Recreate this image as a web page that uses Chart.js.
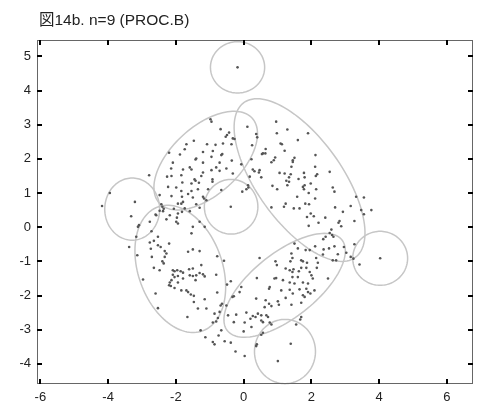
<!DOCTYPE html>
<html>
<head>
<meta charset="utf-8">
<script src="https://cdn.jsdelivr.net/npm/chart.js@4.4.1/dist/chart.umd.min.js"></script>
<style>
  html, body { margin: 0; padding: 0; background: #fff; }
  #wrap { width: 492px; height: 418px; }
</style>
</head>
<body>
<div id="wrap"><canvas id="chart" width="492" height="418"></canvas></div>
<script>
const chartTitle = '図14b. n=9 (PROC.B)';
const xTicks = [-6, -4, -2, 0, 2, 4, 6];
const yTicks = [-4, -3, -2, -1, 0, 1, 2, 3, 4, 5];

// cluster ellipses (centre, semi axes, angle in degrees)
const ellipseCx    = [-0.18, -3.29, -0.37, -1.12, 1.65, -1.87, 1.21, 1.22, 4.03];
const ellipseCy    = [ 4.68,  0.53,  0.60,  1.95, 1.38, -1.22, -1.70, -3.64, -0.91];
const ellipseRx    = [ 0.80,  0.81,  0.79,  1.85, 2.80,  1.93,  2.15,  0.90, 0.81];
const ellipseRy    = [ 0.75,  0.91,  0.80,  1.00, 1.25,  1.24,  0.95,  0.94, 0.79];
const ellipseAngle = [ 0,     0,     0,     42,  -54,   -70,    38,    0,    0];

const ptsUpperLeft = [
  [-0.98,3.16],[-0.95,3.09],[-0.68,2.87],[-0.43,2.77],[-0.49,2.70],[-0.53,2.65],[-0.32,2.60],[-0.27,2.58],
  [-1.69,2.43],[-1.47,2.53],[-1.08,2.43],[-0.83,2.41],[-0.61,2.45],[-0.36,2.43],
  [-1.88,2.13],[-2.2,2.18],[-1.74,2.28],[-1.2,2.2],[-0.91,2.23],[-0.66,2.11],[-0.63,2.14],[-0.95,2.06],[-1.4,2.01],[-1.42,1.98],
  [-2.09,1.89],[-1.2,1.89],[-0.71,1.89],[-0.35,1.95],[-0.07,1.84],[0.23,1.99],
  [-2.14,1.72],[-1.79,1.69],[-1.59,1.75],[-1.54,1.69],[-1.2,1.6],[-0.95,1.67],[-0.81,1.75],[-0.71,1.65],[-0.51,1.72],
  [-2.26,1.48],[-2.13,1.5],[-1.84,1.52],[-1.45,1.4],[-1.42,1.36],[-1.25,1.5],[-0.92,1.4],[-0.92,1.33],
  [-1.81,1.31],[-1.54,1.28],[-1.32,1.3],[-0.32,1.57],[0.18,1.48],
  [-2.23,1.18],[-1.99,1.16],[-1.84,1.06],[-1.54,1.06],[-1.35,1.11],[-1.05,1.11],[-0.66,1.09],[-0.04,1.04],[0.08,1.11],[0.14,1.16],
  [-2.13,0.91],[-1.82,0.89],[-1.64,0.97],[-1.5,0.87],[-1.2,0.89],[-1.1,0.79],[-1.84,0.69],[-1.4,0.67],
  [-2.43,0.67],[-2.4,0.6],[-2.36,0.54],[-2.48,0.48],[-2.38,0.47],[-2.06,0.54],[-1.94,0.4],[-1.82,0.45],[-1.59,0.47],[-1.3,0.57],
  [-2.18,0.35],[-2.6,0.37],[-1.97,0.28],[-2.79,1.52],[-2.48,0.94],[-1.94,0.69],[-1.79,0.74],[-1.74,0.55],[-1.17,0.84]
];

const ptsUpperRight = [
  [0.11,2.94],[0.37,2.73],[0.96,3.09],[1.29,2.86],[1.9,2.75],[0.4,2.63],[0.98,2.75],[1.09,2.45],[1.13,2.43],[1.6,2.55],[0.25,2.4],
  [0.65,2.29],[0.57,2.16],[0.64,2.16],[0.54,2.14],[1.21,2.24],[1.45,1.96],[1.5,2.03],[1.45,1.91],[0.93,2.04],[0.89,1.96],[0.82,1.9],
  [2.12,2.11],[0.27,1.69],[0.32,1.64],[0.47,1.67],[0.45,1.6],[1.41,1.77],[2.11,1.77],[1.06,1.59],[1.21,1.57],[0.52,1.46],
  [1.39,1.55],[1.34,1.46],[1.62,1.41],[1.78,1.59],[1.8,1.46],[2.17,1.55],[2.13,1.5],[2.54,1.62],
  [1.26,1.36],[1.34,1.33],[1.98,1.28],[0.13,1.23],[0.85,1.21],[0.99,1.11],[1.29,1.23],[1.75,1.18],[1.78,1.11],[1.8,1.23],
  [2.14,1.11],[2.63,1.16],[2.68,1.04],[1.92,1.0],[1.58,0.89],[3.32,0.89],[3.55,0.87],[2.11,0.84],[1.24,0.69],[1.82,0.69],
  [1.93,0.67],[0.82,0.58],[1.19,0.6],[1.48,0.55],[1.65,0.55],[2.7,0.58],[3.16,0.62],[3.47,0.5],[3.55,0.38],[3.77,0.5],
  [1.98,0.4],[2.07,0.32],[1.87,0.3],[2.41,0.28],[2.93,0.45],[2.83,0.18],[2.8,0.13],[2.21,0.13],[3.27,0.18],[1.92,0.04],
  [2.59,-0.07],[2.54,-0.17],[2.88,0.03],[2.61,-0.23],[2.65,-0.28],[2.42,-0.28],[2.35,-0.35]
];

const ptsLowerLeft = [
  [-3.09,0.06],[-3.12,0.01],[-3.17,-0.28],[-3.38,-0.58],[-2.72,-0.12],[-2.53,-0.28],[-2.65,-0.4],[-2.77,-0.45],
  [-2.77,0.16],[-2.58,0.35],[-2.28,0.23],[-1.99,0.16],[-1.94,0.11],[-1.3,0.16],[-1.5,0.01],[-1.15,0.01],
  [-1.54,-0.18],[-2.53,-0.53],[-2.45,-0.58],[-2.74,-0.63],[-2.2,-0.48],[-2.33,-0.7],[-2.28,-0.77],[-1.5,-0.65],[-1.64,-0.72],
  [-1.3,-0.7],[-3.14,-0.82],[-2.71,-0.87],[-2.33,-0.87],[-2.4,-1.0],[-0.78,-0.85],[-0.58,-0.98],[-2.36,-1.06],[-2.65,-1.19],
  [-2.48,-1.26],[-2.09,-1.26],[-2.04,-1.29],[-1.96,-1.26],[-1.86,-1.29],[-1.79,-1.33],[-1.61,-1.23],[-1.5,-1.21],[-1.25,-1.11],
  [-2.09,-1.39],[-2.04,-1.46],[-1.94,-1.43],[-2.13,-1.55],[-1.59,-1.41],[-1.5,-1.43],[-1.4,-1.41],[-1.3,-1.34],[-1.2,-1.38],
  [-1.15,-1.44],[-0.81,-1.39],[-2.97,-1.53],[-1.79,-1.5],[-1.42,-1.55],[-2.18,-1.62],[-2.2,-1.7],[-2.15,-1.72],[-1.94,-1.62],
  [-2.04,-1.78],[-1.84,-1.85],[-1.69,-1.85],[-1.64,-1.9],[-1.56,-1.97],[-1.47,-2.01],[-2.6,-1.94],[-0.78,-1.91],[-0.49,-1.68],
  [-0.38,-1.58],[-0.29,-2.02],[-1.15,-2.11],[-1.47,-2.19],[-0.68,-2.29],[-0.64,-2.24],[-2.53,-2.37],[-1.35,-2.38],[-1.1,-2.38],
  [-0.71,-2.48],[-0.86,-2.53],[-0.76,-2.66],[-1.66,-2.63],[-0.91,-2.79],[-0.81,-2.76],[-0.46,-2.58],[-1.27,-3.02],[-0.66,-3.02],
  [-1.13,-3.22],[-0.74,-3.17],[-0.91,-3.36],[-0.86,-3.43],[-0.56,-3.34],[-0.38,-3.38],[-0.51,-2.29]
];

const ptsLowerRight = [
  [1.5,-0.48],[2.96,-0.58],[3.27,-0.5],[2.11,-0.56],[2.36,-0.65],[2.52,-0.62],[1.6,-0.62],[2.68,-0.56],[3.16,-0.87],[3.24,-0.92],
  [2.78,-0.79],[3.03,-0.75],[3.42,-1.09],[0.47,-0.9],[1.41,-0.77],[1.44,-0.9],[1.38,-1.0],[1.7,-0.97],[1.75,-1.0],[1.83,-0.67],
  [1.95,-0.67],[2.14,-0.9],[2.19,-1.04],[2.34,-0.8],[0.94,-1.0],[1.87,-1.04],[0.98,-1.11],[1.24,-1.21],[1.36,-1.26],[1.44,-1.31],
  [1.47,-1.23],[1.63,-1.29],[1.7,-1.19],[1.85,-1.19],[1.95,-1.31],[2.16,-1.19],[2.49,-1.5],[2.0,-1.41],[2.04,-1.5],[1.44,-1.46],
  [1.6,-1.46],[0.91,-1.5],[0.96,-1.49],[1.16,-1.55],[0.39,-1.49],[1.36,-1.62],[1.5,-1.65],[1.75,-1.62],[1.9,-1.65],[0.77,-1.75],
  [0.75,-1.8],[1.11,-1.85],[1.36,-1.83],[1.45,-1.94],[1.65,-1.82],[1.85,-1.8],[1.9,-1.9],[1.97,-1.94],[2.09,-1.85],[1.75,-1.99],
  [1.8,-2.04],[-0.07,-1.75],[-0.33,-2.04],[-0.12,-1.9],[0.37,-2.09],[0.65,-2.14],[1.01,-2.17],[1.24,-2.07],[0.75,-2.24],[0.82,-2.31],
  [1.04,-2.27],[1.41,-2.27],[1.7,-2.21],[0.62,-2.34],[0.08,-2.5],[0.27,-2.6],[0.35,-2.63],[0.42,-2.53],[0.52,-2.58],[0.67,-2.58],
  [0.72,-2.63],[-0.22,-2.56],[-0.29,-2.78],[0.03,-2.79],[0.2,-2.68],[0.52,-2.73],[0.57,-2.78],[0.77,-2.79],[0.82,-2.85],[0.23,-2.92],
  [0.0,-3.05],[0.57,-3.09],[0.52,-3.15],[1.7,-2.63],[1.67,-2.7],[1.55,-2.85],[-0.24,-3.64],[0.39,-3.43],[0.03,-3.77],[0.37,-3.48],
  [2.63,-0.97],[2.73,-0.97]
];

const ptsSmallClusters = [
  [-0.18,4.68],[-3.21,0.74],[-3.32,0.32],[-4.18,0.62],[-3.95,1.0],[-0.38,0.6],[4.03,-0.91],[1.39,-3.41],[1.01,-3.92]
];

const allPoints = [].concat(ptsUpperLeft, ptsUpperRight, ptsLowerLeft, ptsLowerRight, ptsSmallClusters)
  .map(p => ({ x: p[0], y: p[1] }));

const boxPlugin = {
  id: 'boxPlugin',
  beforeDatasetsDraw(chart) {
    const ctx = chart.ctx, xs = chart.scales.x, ys = chart.scales.y;
    ctx.save();
    ctx.strokeStyle = '#c6c6c6';
    ctx.lineWidth = 1.5;
    for (let i = 0; i < ellipseCx.length; i++) {
      const a = ellipseAngle[i] * Math.PI / 180;
      ctx.beginPath();
      for (let k = 0; k <= 120; k++) {
        const t = k / 120 * Math.PI * 2;
        const dx = ellipseRx[i] * Math.cos(t), dy = ellipseRy[i] * Math.sin(t);
        const px = xs.getPixelForValue(ellipseCx[i] + dx * Math.cos(a) - dy * Math.sin(a));
        const py = ys.getPixelForValue(ellipseCy[i] + dx * Math.sin(a) + dy * Math.cos(a));
        if (k === 0) ctx.moveTo(px, py); else ctx.lineTo(px, py);
      }
      ctx.closePath();
      ctx.stroke();
    }
    ctx.restore();
  },
  afterDraw(chart) {
    const ctx = chart.ctx, area = chart.chartArea, xs = chart.scales.x, ys = chart.scales.y;
    ctx.save();
    ctx.strokeStyle = '#666';
    ctx.lineWidth = 1;
    ctx.strokeRect(area.left + 0.5, area.top + 0.5, area.right - area.left - 1, area.bottom - area.top - 1);
    ctx.strokeStyle = '#000';
    ctx.lineWidth = 2;
    ctx.beginPath();
    xTicks.forEach(v => {
      const px = Math.round(xs.getPixelForValue(v));
      ctx.moveTo(px, area.bottom); ctx.lineTo(px, area.bottom - 5);
      ctx.moveTo(px, area.top); ctx.lineTo(px, area.top + 5);
    });
    yTicks.forEach(v => {
      const py = Math.round(ys.getPixelForValue(v));
      ctx.moveTo(area.left, py); ctx.lineTo(area.left + 5, py);
      ctx.moveTo(area.right, py); ctx.lineTo(area.right - 5, py);
    });
    ctx.stroke();
    ctx.fillStyle = '#222';
    ctx.font = '15.5px "Liberation Sans", "Noto Sans CJK JP", sans-serif';
    ctx.textBaseline = 'middle';
    ctx.textAlign = 'left';
    ctx.fillText(chartTitle, area.left + 2, 21);
    ctx.restore();
  }
};

new Chart(document.getElementById('chart'), {
  type: 'scatter',
  data: {
    datasets: [{
      data: allPoints,
      pointRadius: 1.3,
      pointBorderWidth: 0,
      backgroundColor: '#555',
      borderColor: '#555'
    }]
  },
  options: {
    responsive: false,
    animation: false,
    devicePixelRatio: 1,
    layout: { padding: { top: 40, right: 19, left: 0, bottom: 0 } },
    plugins: { legend: { display: false }, tooltip: { enabled: false } },
    scales: {
      x: {
        type: 'linear', min: -6.1, max: 6.77,
        afterBuildTicks: s => { s.ticks = xTicks.map(v => ({ value: v })); },
        afterFit: s => { s.height = 34; },
        grid: { display: false, drawTicks: false },
        border: { display: false },
        ticks: { padding: 6, color: '#222', font: { family: '"Liberation Sans", sans-serif', size: 13 } }
      },
      y: {
        type: 'linear', min: -4.59, max: 5.48,
        afterBuildTicks: s => { s.ticks = yTicks.map(v => ({ value: v })); },
        afterFit: s => { s.width = 37; },
        grid: { display: false, drawTicks: false },
        border: { display: false },
        ticks: { padding: 6, color: '#222', font: { family: '"Liberation Sans", sans-serif', size: 13 } }
      }
    }
  },
  plugins: [boxPlugin]
});
</script>
</body>
</html>
